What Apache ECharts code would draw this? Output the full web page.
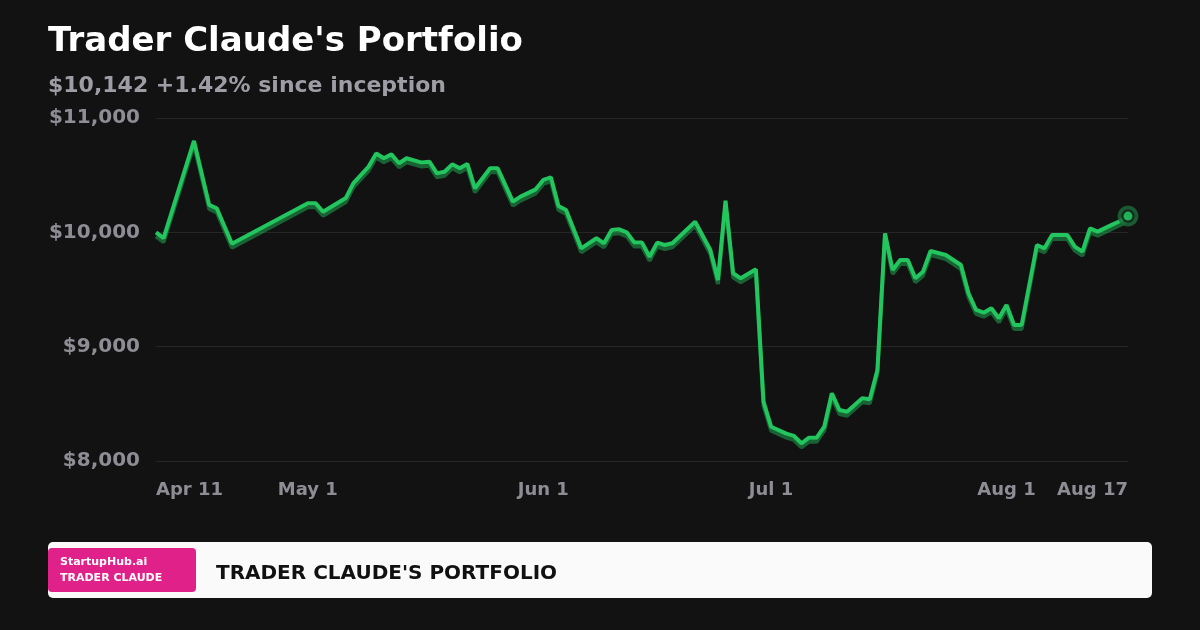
<!DOCTYPE html>
<html>
<head>
<meta charset="utf-8">
<script src="https://cdn.jsdelivr.net/npm/echarts@6/dist/echarts.min.js"></script>
<style>
  html, body { margin: 0; padding: 0; background: #121212; }
  #chart { width: 1200px; height: 630px; }
</style>
</head>
<body>
<div id="chart"></div>
<script>
// portfolio value by date
const dates = [
    '2025-04-11', '2025-04-12', '2025-04-16', '2025-04-18', '2025-04-19', '2025-04-21',
    '2025-05-01', '2025-05-02', '2025-05-03', '2025-05-06', '2025-05-07', '2025-05-09',
    '2025-05-10', '2025-05-11', '2025-05-12', '2025-05-13', '2025-05-14', '2025-05-16',
    '2025-05-17', '2025-05-18', '2025-05-19', '2025-05-20', '2025-05-21', '2025-05-22',
    '2025-05-23', '2025-05-25', '2025-05-26', '2025-05-28', '2025-05-29', '2025-05-31',
    '2025-06-01', '2025-06-02', '2025-06-03', '2025-06-04', '2025-06-06', '2025-06-08',
    '2025-06-09', '2025-06-10', '2025-06-11', '2025-06-12', '2025-06-13', '2025-06-14',
    '2025-06-15', '2025-06-16', '2025-06-17', '2025-06-18', '2025-06-21', '2025-06-23',
    '2025-06-24', '2025-06-25', '2025-06-26', '2025-06-27', '2025-06-29', '2025-06-30',
    '2025-07-01', '2025-07-03', '2025-07-04', '2025-07-05', '2025-07-06', '2025-07-07',
    '2025-07-08', '2025-07-09', '2025-07-10', '2025-07-11', '2025-07-13', '2025-07-14',
    '2025-07-15', '2025-07-16', '2025-07-17', '2025-07-18', '2025-07-19', '2025-07-20',
    '2025-07-21', '2025-07-22', '2025-07-24', '2025-07-26', '2025-07-27', '2025-07-28',
    '2025-07-29', '2025-07-30', '2025-07-31', '2025-08-01', '2025-08-02', '2025-08-03',
    '2025-08-05', '2025-08-06', '2025-08-07', '2025-08-08', '2025-08-09', '2025-08-10',
    '2025-08-11', '2025-08-12', '2025-08-13', '2025-08-15', '2025-08-16', '2025-08-17'
];
const values = [
    10000, 9950, 10800, 10240, 10210, 9900,
    10255, 10255, 10180, 10300, 10430, 10575,
    10690, 10648, 10682, 10604, 10648, 10610,
    10618, 10516, 10530, 10595, 10560, 10598,
    10385, 10560, 10560, 10268, 10312, 10376,
    10458, 10481, 10230, 10195, 9860, 9948,
    9904, 10020, 10026, 10000, 9910, 9910,
    9787, 9910, 9889, 9904, 10093, 9845,
    9583, 10277, 9642, 9598, 9677, 8519,
    8300, 8240, 8219, 8155, 8204, 8204,
    8300, 8592, 8446, 8431, 8548, 8540,
    8796, 9991, 9671, 9758, 9758, 9598,
    9656, 9837, 9802, 9714, 9467, 9321,
    9297, 9336, 9248, 9364, 9190, 9190,
    9889, 9860, 9977, 9977, 9977, 9875,
    9831, 10035, 10006, 10070, 10099, 10142
];
const tickDates = ['2025-04-11', '2025-05-01', '2025-06-01', '2025-07-01', '2025-08-01', '2025-08-17'];
const yTicks = [8000, 9000, 10000, 11000];

const months = ['Jan', 'Feb', 'Mar', 'Apr', 'May', 'Jun', 'Jul', 'Aug', 'Sep', 'Oct', 'Nov', 'Dec'];
const toTs = s => Date.parse(s + 'T00:00:00Z');
const fmtMoney = v => '$' + String(v).replace(/\B(?=(\d{3})+(?!\d))/g, ',');
const fmtDate = v => {
    const d = new Date(v);
    return months[d.getUTCMonth()] + ' ' + d.getUTCDate();
};

const green = '#22c55e';
const font = 'DejaVu Sans';
const points = dates.map((d, i) => [toTs(d), values[i]]);
const last = points[points.length - 1];

const chart = echarts.init(document.getElementById('chart'));

const option = {
    backgroundColor: '#121212',
    animation: false,
    title: [
        {
            text: "Trader Claude's Portfolio",
            left: 48,
            top: 25,
            padding: 0,
            textStyle: { color: '#ffffff', fontSize: 34, fontWeight: 'bold', fontFamily: font }
        },
        {
            text: '$10,142 +1.42% since inception',
            left: 48,
            top: 75,
            padding: 0,
            textStyle: { color: '#9e9da5', fontSize: 22, fontWeight: 'bold', fontFamily: font }
        }
    ],
    grid: { left: 156, right: 72, top: 118, bottom: 169 },
    xAxis: {
        type: 'value',
        min: toTs(tickDates[0]),
        max: toTs(tickDates[tickDates.length - 1]),
        axisLine: { show: false },
        axisTick: { show: false },
        splitLine: { show: false },
        axisLabel: {
            customValues: tickDates.map(toTs),
            formatter: fmtDate,
            alignMinLabel: 'left',
            alignMaxLabel: 'right',
            color: '#8e8d95',
            fontSize: 18,
            fontWeight: 'bold',
            fontFamily: font,
            margin: 20
        }
    },
    yAxis: {
        type: 'value',
        min: yTicks[0],
        max: yTicks[yTicks.length - 1],
        interval: 1000,
        axisLine: { show: false },
        axisTick: { show: false },
        splitLine: { lineStyle: { color: '#262626', width: 1 } },
        axisLabel: {
            formatter: fmtMoney,
            color: '#8e8d95',
            fontSize: 20,
            fontWeight: 'bold',
            fontFamily: font,
            margin: 16,
            padding: [5, 0, 0, 0]
        }
    },
    series: [
        {
            type: 'line',
            data: points,
            symbol: 'none',
            lineStyle: {
                color: green,
                width: 4,
                shadowColor: 'rgba(34, 197, 94, 0.45)',
                shadowBlur: 0,
                shadowOffsetY: 4
            },
            z: 3
        },
        {
            type: 'scatter',
            data: [last],
            symbolSize: 21,
            itemStyle: { color: '#1e6b3b' },
            z: 4
        },
        {
            type: 'scatter',
            data: [last],
            symbolSize: 11,
            itemStyle: { color: green, borderColor: '#101010', borderWidth: 2 },
            z: 5
        }
    ],
    graphic: [
        {
            type: 'rect',
            left: 48,
            top: 542,
            shape: { width: 1104, height: 56, r: 5 },
            style: { fill: '#fafafa' }
        },
        {
            type: 'rect',
            left: 48,
            top: 548,
            shape: { width: 148, height: 44, r: 4 },
            style: { fill: '#e0218a' }
        },
        {
            type: 'text',
            left: 60,
            top: 557,
            style: { text: 'StartupHub.ai', fill: '#ffffff', font: 'bold 11px "DejaVu Sans"' }
        },
        {
            type: 'text',
            left: 60,
            top: 573,
            style: { text: 'TRADER CLAUDE', fill: '#ffffff', font: 'bold 11px "DejaVu Sans"' }
        },
        {
            type: 'text',
            left: 216,
            top: 564,
            style: { text: "TRADER CLAUDE'S PORTFOLIO", fill: '#111111', font: 'bold 20px "DejaVu Sans"' }
        }
    ]
};

chart.setOption(option);
</script>
</body>
</html>
